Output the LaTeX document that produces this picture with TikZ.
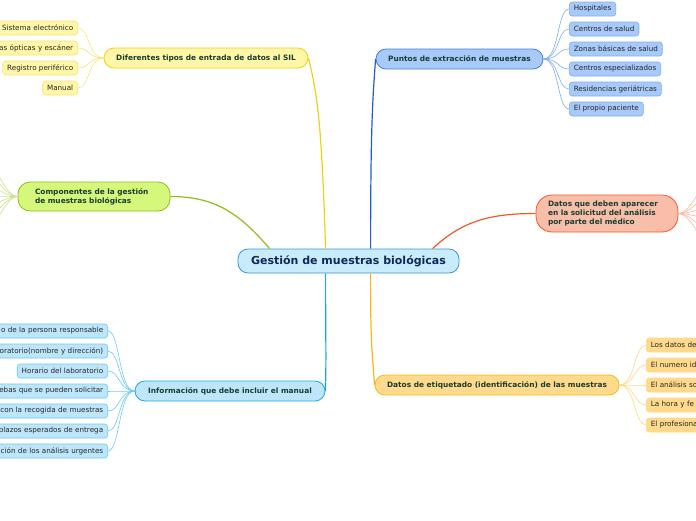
\documentclass[tikz,border=0pt]{standalone}
\usepackage{fontspec}
\setmainfont{DejaVu Sans}
\definecolor{toptext}{RGB}{24,62,48}
\definecolor{maintext}{RGB}{16,40,84}
\definecolor{mainfill}{RGB}{201,236,252}
\definecolor{mainline}{RGB}{58,150,214}
\definecolor{ylwfill}{RGB}{255,246,168}
\definecolor{ylwline}{RGB}{236,210,20}
\definecolor{ylwleaf}{RGB}{246,228,120}
\definecolor{blufill}{RGB}{168,202,250}
\definecolor{bluline}{RGB}{30,92,204}
\definecolor{bluleaf}{RGB}{128,172,242}
\definecolor{grnfill}{RGB}{213,247,124}
\definecolor{grnline}{RGB}{146,190,20}
\definecolor{grnleaf}{RGB}{200,224,140}
\definecolor{salfill}{RGB}{249,190,170}
\definecolor{salline}{RGB}{242,88,40}
\definecolor{salleaf}{RGB}{249,180,154}
\definecolor{inffill}{RGB}{189,230,251}
\definecolor{infline}{RGB}{28,166,230}
\definecolor{infleaf}{RGB}{110,200,240}
\definecolor{orgfill}{RGB}{255,218,140}
\definecolor{orgline}{RGB}{245,184,20}
\definecolor{orgleaf}{RGB}{255,214,130}

\begin{document}
\begin{tikzpicture}[x=1pt,y=-1pt,
  leaf/.style={draw, rounded corners=3pt, font=\fontsize{7.2}{8}\selectfont, text=black!85,
    inner xsep=4.5pt, inner ysep=0pt, minimum height=14pt, line width=0.6pt},
  leafcutl/.style={leaf, text width=110pt, align=right},
  leafcutr/.style={leaf, text width=80pt, align=left},
  topic/.style={draw, rounded corners=10pt, font=\bfseries\fontsize{7.4}{9.2}\selectfont, text=toptext,
    inner sep=0pt, minimum height=20pt, line width=0.8pt},
  twig/.style={line width=0.6pt},
  branch/.style={line width=1.2pt}]
\useasboundingbox (0,0) rectangle (696,520);
\clip (0,0) rectangle (696,520);

\node[draw=mainline, fill=mainfill, rounded corners=10pt, line width=0.8pt, minimum width=221pt,
  minimum height=24pt, inner sep=0pt, text=maintext, font=\bfseries\fontsize{11}{13}\selectfont]
  (c) at (348.5,261) {Gestión de muestras biológicas};

\node[topic, draw=ylwline, fill=ylwfill, minimum width=204pt] (dif) at (206,58)
  {Diferentes tipos de entrada de datos al SIL};
\node[topic, draw=bluline!80, fill=blufill, minimum width=167pt] (pun) at (459.5,59)
  {Puntos de extracción de muestras};
\node[topic, draw=grnline, fill=grnfill, minimum height=29pt, rounded corners=12pt,
  inner xsep=17pt, text width=118pt, align=left] (com) at (94,196.5)
  {Componentes de la gestión\\de muestras biológicas};
\node[topic, draw=salline, fill=salfill, minimum height=37pt, rounded corners=16pt,
  inner xsep=12pt, text width=118pt, align=left] (dat) at (607,213.5)
  {Datos que deben aparecer\\en la solicitud del análisis\\por parte del médico};
\node[topic, draw=infline, fill=inffill, minimum width=190pt] (inf) at (230,391)
  {Información que debe incluir el manual};
\node[topic, draw=orgline, fill=orgfill, minimum width=244pt] (eti) at (497,385)
  {Datos de etiquetado (identificación) de las muestras};

% ramas principales
\draw[branch, ylwline] ([xshift=88pt]c.north west) .. controls +(-4,-120) and +(10,40) .. (dif.east);
\draw[branch, bluline] ([xshift=133pt]c.north west) .. controls +(0,-120) and +(-3,40) .. (pun.west);
\draw[branch, grnline] ([xshift=32pt]c.north west) .. controls +(-30,-35) and +(45,0) .. (com.east);
\draw[branch, salline] ([xshift=195pt]c.north west) .. controls +(30,-28) and +(-45,0) .. (dat.west);
\draw[branch, infline] ([xshift=88pt]c.south west) .. controls +(0,80) and +(1,-40) .. (inf.east);
\draw[branch, orgline] ([xshift=133pt]c.south west) .. controls +(0,70) and +(-3,-40) .. (eti.west);

% hojas
\node[leafcutl, draw=ylwleaf, fill=ylwfill, anchor=east] (d1) at (78,28) {Sistema electrónico};
\node[leafcutl, draw=ylwleaf, fill=ylwfill, anchor=east] (d2) at (78,48) {as ópticas y escáner};
\node[leaf, draw=ylwleaf, fill=ylwfill, anchor=east] (d3) at (78,68) {Registro periférico};
\node[leaf, draw=ylwleaf, fill=ylwfill, anchor=east] (d4) at (78,88) {Manual};
\foreach \i in {1,...,4}
  \draw[twig, ylwleaf] (dif.west) .. controls +(-16,0) and +(12,0) .. (d\i.east);

\foreach \t [count=\i] in {Hospitales, Centros de salud, Zonas básicas de salud,
    Centros especializados, Residencias geriátricas, El propio paciente}{
  \node[leaf, draw=bluleaf, fill=blufill, anchor=west] (p\i) at (569,-11+20*\i) {\t};
  \draw[twig, bluleaf] (pun.east) .. controls +(16,0) and +(-12,0) .. (p\i.west);
}

\foreach \y [count=\i] in {150,166,182,196,210,226,242}{
  \coordinate (g\i) at (-20,\y);
  \draw[twig, grnleaf] (com.west) .. controls +(-14,0) and +(10,0) .. (g\i);
}
\foreach \y [count=\i] in {172,190,206,220,236,254}{
  \coordinate (s\i) at (716,\y);
  \draw[twig, salleaf] (dat.east) .. controls +(14,0) and +(-10,0) .. (s\i);
}

\node[leafcutl, draw=infleaf, fill=inffill, anchor=east] (m1) at (108,331) {o de la persona responsable};
\node[leafcutl, draw=infleaf, fill=inffill, anchor=east] (m2) at (108,351) {oratorio(nombre y dirección)};
\node[leaf, draw=infleaf, fill=inffill, anchor=east] (m3) at (108,371) {Horario del laboratorio};
\node[leafcutl, draw=infleaf, fill=inffill, anchor=east] (m4) at (108,391) {ebas que se pueden solicitar};
\node[leafcutl, draw=infleaf, fill=inffill, anchor=east] (m5) at (108,411) {con la recogida de muestras};
\node[leafcutl, draw=infleaf, fill=inffill, anchor=east] (m6) at (108,431) {plazos esperados de entrega};
\node[leafcutl, draw=infleaf, fill=inffill, anchor=east] (m7) at (108,451) {ción de los análisis urgentes};
\foreach \i in {1,...,7}
  \draw[twig, infleaf] (inf.west) .. controls +(-16,0) and +(12,0) .. (m\i.east);

\foreach \t [count=\i] in {Los datos de, El numero id, El análisis so, La hora y fe, El profesiona}{
  \node[leafcutr, draw=orgleaf, fill=orgfill, anchor=west] (e\i) at (646,325+20*\i) {\t};
  \draw[twig, orgleaf] (eti.east) .. controls +(16,0) and +(-12,0) .. (e\i.west);
}
\end{tikzpicture}
\end{document}
